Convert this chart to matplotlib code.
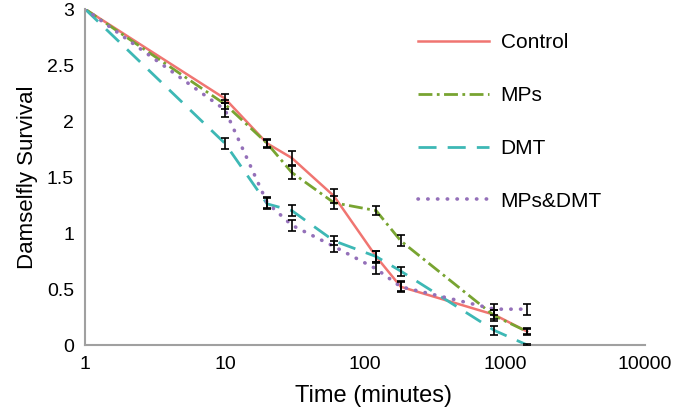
import matplotlib
matplotlib.use("Agg")
import matplotlib.pyplot as plt

plt.rcParams["font.family"] = ["Liberation Sans", "DejaVu Sans"]

# Zeitpunkte (Minuten) und Überlebenswerte je Behandlung
zeit = [1, 10, 20, 30, 60, 120, 180, 840, 1440]

control = [3, 2.2, 1.8, 1.67, 1.33, 0.79, 0.52, 0.27, 0.12]
control_err = [0, 0.04, 0.04, 0.06, 0.06, 0.05, 0.04, 0.04, 0.03]

mps = [3, 2.15, 1.8, 1.54, 1.27, 1.2, 0.93, 0.26, 0.12]
mps_err = [0, 0.04, 0.03, 0.06, 0.06, 0.04, 0.05, 0.05, 0.02]

dmt = [3, 1.8, 1.26, 1.2, 0.93, 0.79, 0.66, 0.13, 0.0]
dmt_err = [0, 0.05, 0.05, 0.05, 0.04, 0.05, 0.04, 0.04, 0.01]

mps_dmt = [3, 2.1, 1.27, 1.07, 0.88, 0.68, 0.52, 0.32, 0.32]
mps_dmt_err = [0, 0.06, 0.05, 0.05, 0.05, 0.05, 0.05, 0.05, 0.05]

namen = ["Control", "MPs", "DMT", "MPs&DMT"]
werte = [control, mps, dmt, mps_dmt]
fehler = [control_err, mps_err, dmt_err, mps_dmt_err]
farben = ["#f07571", "#78a431", "#3db8b5", "#9470b9"]
stile = ["-", (0, (5, 1.6, 1, 1.6)), (0, (6.5, 4)), (0, (0.1, 2.6))]
breiten = [1.8, 2.0, 2.0, 2.6]

fig = plt.figure(figsize=(6.85, 4.15), dpi=100)
ax = fig.add_axes([85 / 685, 1 - 345 / 415, 560 / 685, 336 / 415])

for name, y, err, farbe, stil, lw in zip(namen, werte, fehler, farben, stile, breiten):
    kappe = "round" if name == "MPs&DMT" else "butt"
    ax.plot(zeit, y, color=farbe, linestyle=stil, linewidth=lw, label=name,
            dash_capstyle=kappe, zorder=2)
    ax.errorbar(zeit[1:], y[1:], yerr=err[1:], fmt="none", ecolor="black",
                elinewidth=1.2, capsize=3, capthick=1.2, zorder=3)

ax.set_xscale("log")
ax.set_xlim(1, 10000)
ax.set_ylim(0, 3)
ax.set_xticks([1, 10, 100, 1000, 10000])
ax.set_xticklabels(["1", "10", "100", "1000", "10000"])
ax.set_yticks([0, 0.5, 1, 1.5, 2, 2.5, 3])
ax.set_yticklabels(["0", "0.5", "1", "1.5", "2", "2.5", "3"])
ax.minorticks_off()
ax.tick_params(length=0, labelsize=14, pad=8)

for s in ["top", "right"]:
    ax.spines[s].set_visible(False)
for s in ["left", "bottom"]:
    ax.spines[s].set_color("#a0a0a0")
    ax.spines[s].set_linewidth(1.5)

ax.set_xlabel("Time (minutes)", fontsize=17)
ax.xaxis.set_label_coords(0.516, -0.12)
ax.set_ylabel("Damselfly Survival", fontsize=16, labelpad=6)

ax.legend(loc="upper left", bbox_to_anchor=(408 / 685, 1 - 23 / 415),
          bbox_transform=fig.transFigure, frameon=False, fontsize=15,
          handlelength=3.4, handletextpad=0.55, labelspacing=1.62, borderpad=0)

fig.savefig("out.png", dpi=100)
